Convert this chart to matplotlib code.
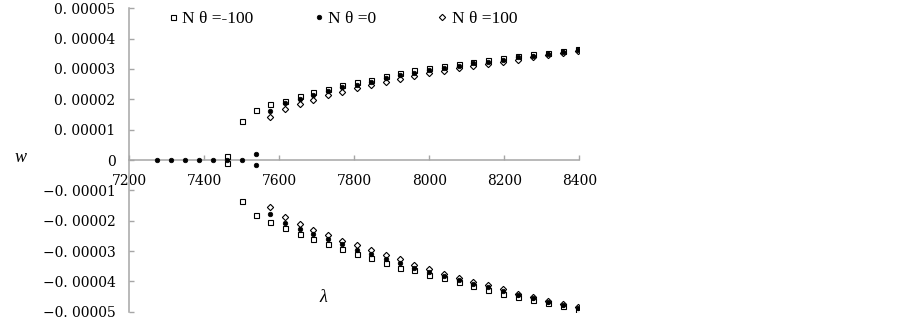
import numpy as np
import matplotlib.pyplot as plt
from matplotlib.lines import Line2D

nan = np.nan

# wavelength lambda (shared by all three series)
LAM = [7275, 7310, 7348, 7386, 7422, 7461, 7500, 7538, 7576, 7614,
       7654, 7691, 7729, 7768, 7807, 7845, 7884, 7923, 7960, 8000,
       8040, 8079, 8117, 8157, 8197, 8237, 8276, 8317, 8357, 8397]

# w values in units of 1e-5, upper and lower branch
SQ_UP = [nan, nan, nan, nan, nan, 0.13, 1.29, 1.66, 1.84, 1.96, 2.12, 2.23, 2.35, 2.46, 2.56,
         2.65, 2.77, 2.87, 2.95, 3.03, 3.10, 3.17, 3.23, 3.29, 3.36, 3.42, 3.48, 3.54, 3.60, 3.66]
SQ_LO = [nan, nan, nan, nan, nan, -0.09, -1.34, -1.82, -2.03, -2.23, -2.43, -2.60, -2.78, -2.94, -3.11,
         -3.24, -3.38, -3.55, -3.63, -3.78, -3.89, -4.02, -4.14, -4.27, -4.41, -4.50, -4.62, -4.71, -4.82, -4.95]

DOT_UP = [0, 0, 0, 0, 0, 0, 0, 0.19, 1.63, 1.87, 2.00, 2.14, 2.28, 2.39, 2.48,
          2.58, 2.69, 2.79, 2.88, 2.96, 3.03, 3.11, 3.18, 3.24, 3.31, 3.38, 3.44, 3.50, 3.56, 3.63]
DOT_LO = [nan, nan, nan, nan, nan, nan, nan, -0.15, -1.77, -2.08, -2.27, -2.44, -2.60, -2.77, -2.95,
          -3.10, -3.25, -3.40, -3.55, -3.69, -3.82, -3.95, -4.08, -4.20, -4.33, -4.45, -4.56, -4.68, -4.77, -4.89]

DIA_UP = [nan, nan, nan, nan, nan, nan, nan, nan, 1.41, 1.68, 1.85, 1.98, 2.13, 2.24, 2.37,
          2.48, 2.56, 2.67, 2.77, 2.86, 2.94, 3.02, 3.09, 3.16, 3.24, 3.31, 3.38, 3.45, 3.51, 3.58]
DIA_LO = [nan, nan, nan, nan, nan, nan, nan, nan, -1.54, -1.87, -2.12, -2.32, -2.48, -2.66, -2.80,
          -2.97, -3.14, -3.27, -3.47, -3.60, -3.75, -3.89, -4.02, -4.13, -4.26, -4.41, -4.51, -4.65, -4.73, -4.84]

X_TICKS = [7200, 7400, 7600, 7800, 8000, 8200, 8400]
Y_TICKS = [-5, -4, -3, -2, -1, 0, 1, 2, 3, 4, 5]
Y_LABELS = ["\u22120. 00005", "\u22120. 00004", "\u22120. 00003", "\u22120. 00002", "\u22120. 00001",
            "0", "0. 00001", "0. 00002", "0. 00003", "0. 00004", "0. 00005"]

SERIF = ["Liberation Serif", "DejaVu Serif"]
TICK_FONT = ["DejaVu Serif"]
AXIS_GRAY = "#a6a6a6"

fig = plt.figure(figsize=(9.03, 3.19), dpi=100)
ax = fig.add_axes([0.1432, 0.0227, 0.4983, 0.9514])

lam = np.array(LAM)
scale = 1e-5
sq = dict(marker="s", ms=3.6, mfc="white", mec="black", mew=0.8, ls="none")
dot = dict(marker="o", ms=3.3, mfc="black", mec="black", mew=0.5, ls="none")
dia = dict(marker="D", ms=3.2, mfc="white", mec="black", mew=0.8, ls="none")

for ys in (SQ_UP, SQ_LO):
    ax.plot(lam, np.array(ys) * scale, zorder=3, **sq)
for ys in (DIA_UP, DIA_LO):
    ax.plot(lam, np.array(ys) * scale, zorder=4, **dia)
for ys in (DOT_UP, DOT_LO):
    ax.plot(lam, np.array(ys) * scale, zorder=5, **dot)

ax.set_xlim(7200, 8400)
ax.set_ylim(-5e-5, 5e-5)
ax.set_xticks(X_TICKS)
ax.set_yticks([v * scale for v in Y_TICKS])
ax.set_yticklabels(Y_LABELS)

for side in ("top", "right"):
    ax.spines[side].set_visible(False)
ax.spines["bottom"].set_position(("data", 0))
for side in ("left", "bottom"):
    ax.spines[side].set_color(AXIS_GRAY)
    ax.spines[side].set_linewidth(1.1)

ax.tick_params(axis="both", direction="in", length=3.5, width=1.0, color=AXIS_GRAY,
               labelsize=10)
ax.tick_params(axis="x", pad=10)
ax.tick_params(axis="y", pad=10)
for lbl in ax.get_xticklabels() + ax.get_yticklabels():
    lbl.set_family(TICK_FONT)
ax.patch.set_visible(False)

fig.text(21 / 903, 1 - 157 / 319, "w", fontsize=13, style="italic", family=SERIF,
         ha="center", va="center")
fig.text(323 / 903, 1 - 298 / 319, "\u03bb", fontsize=13, style="italic", family=SERIF,
         ha="center", va="center")

handles = [
    Line2D([], [], **sq),
    Line2D([], [], **dot),
    Line2D([], [], **dia),
]
labels = ["N \u03b8 =-100", "N \u03b8 =0", "N \u03b8 =100"]
fig.legend(handles, labels, loc="center left", bbox_to_anchor=(168 / 903, 1 - 19 / 319),
           ncol=3, frameon=False, handlelength=0.55, handletextpad=0.27, columnspacing=3.5,
           borderpad=0, borderaxespad=0, prop={"family": SERIF, "size": 12.5})

fig.savefig("out.png", dpi=100)
